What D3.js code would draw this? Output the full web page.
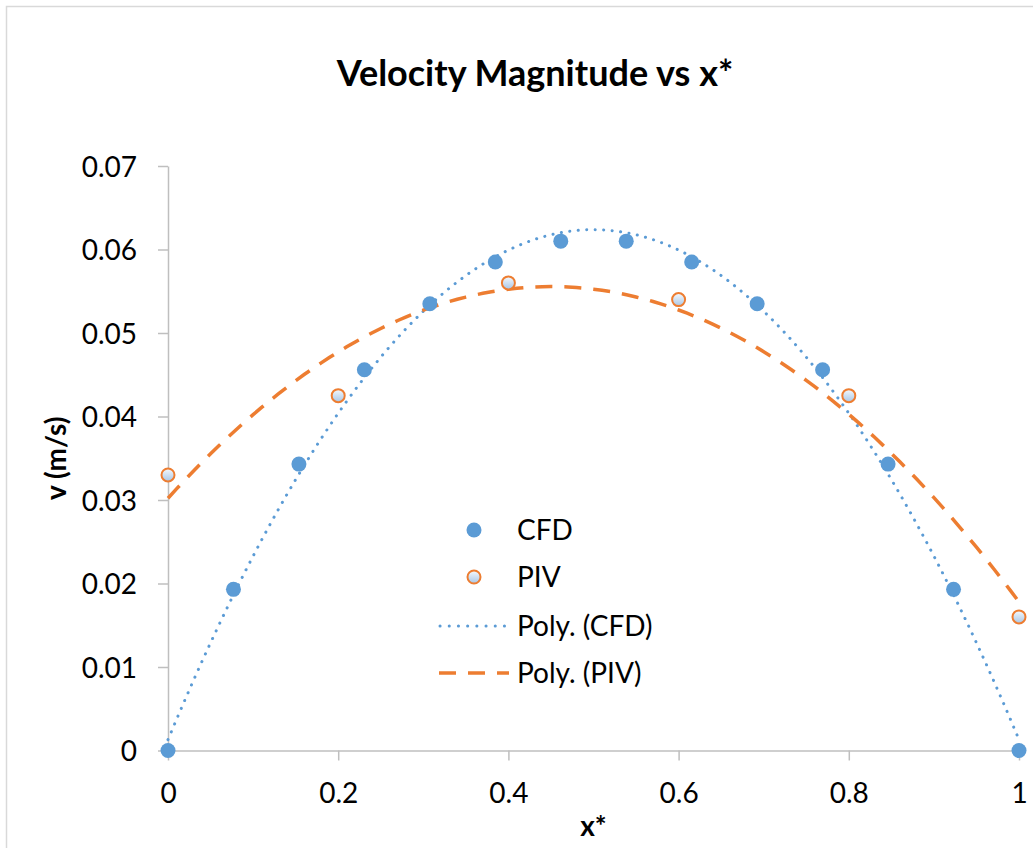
<!DOCTYPE html>
<html>
<head>
<meta charset="utf-8">
<script src="https://cdn.jsdelivr.net/npm/d3@7"></script>
<style>
  html, body { margin: 0; padding: 0; background: #fff; }
  svg { display: block; font-family: Lato, "Liberation Sans", sans-serif; }
</style>
</head>
<body>
<div id="chart"></div>
<script>
// data
var cfdX = [0, 1/13, 2/13, 3/13, 4/13, 5/13, 6/13, 7/13, 8/13, 9/13, 10/13, 11/13, 12/13, 1];
var cfdV = [0, 0.0193, 0.0343, 0.0456, 0.0535, 0.0585, 0.0610, 0.0610, 0.0585, 0.0535, 0.0456, 0.0343, 0.0193, 0];
var pivX = [0, 0.2, 0.4, 0.6, 0.8, 1];
var pivV = [0.0330, 0.0425, 0.0560, 0.0540, 0.0425, 0.0160];
var xTicks = [0, 0.2, 0.4, 0.6, 0.8, 1];
var yTicks = [0, 0.01, 0.02, 0.03, 0.04, 0.05, 0.06, 0.07];

var width = 1033, height = 848;

var svg = d3.select("#chart")
    .append("svg")
    .attr("width", width)
    .attr("height", height);

// chart area border (right/bottom edges are cut off in the picture)
svg.append("rect")
    .attr("x", 6.5)
    .attr("y", 6.5)
    .attr("width", width + 20)
    .attr("height", height + 20)
    .attr("fill", "#fff")
    .attr("stroke", "#d9d9d9")
    .attr("stroke-width", 1.5);

var defs = svg.append("defs");
var grad = defs.append("linearGradient")
    .attr("id", "pivFill")
    .attr("x1", 0).attr("y1", 0)
    .attr("x2", 0).attr("y2", 1);
grad.append("stop").attr("offset", "0%").attr("stop-color", "#f7fafd");
grad.append("stop").attr("offset", "100%").attr("stop-color", "#a8c6e6");

var x = d3.scaleLinear().domain([0, 1]).range([168, 1019]);
var y = d3.scaleLinear().domain([0, 0.07]).range([750.5, 166]);

// least squares polynomial (order 2), like the spreadsheet trendline
function polyFit(xs, ys, order) {
    var n = order + 1;
    var A = [], b = [];
    for (var i = 0; i < n; i++) {
        A.push([]);
        for (var j = 0; j < n; j++) {
            A[i].push(d3.sum(xs, function(v) { return Math.pow(v, i + j); }));
        }
        b.push(d3.sum(xs, function(v, k) { return ys[k] * Math.pow(v, i); }));
    }
    // gaussian elimination
    for (var c = 0; c < n; c++) {
        for (var r = c + 1; r < n; r++) {
            var f = A[r][c] / A[c][c];
            for (var k = c; k < n; k++) A[r][k] -= f * A[c][k];
            b[r] -= f * b[c];
        }
    }
    var coef = new Array(n);
    for (var r2 = n - 1; r2 >= 0; r2--) {
        var s = b[r2];
        for (var k2 = r2 + 1; k2 < n; k2++) s -= A[r2][k2] * coef[k2];
        coef[r2] = s / A[r2][r2];
    }
    return function(t) {
        return d3.sum(coef, function(cf, p) { return cf * Math.pow(t, p); });
    };
}

var fitCfd = polyFit(cfdX, cfdV, 2);
var fitPiv = polyFit(pivX, pivV, 2);
var sampleX = d3.range(0, 1.0001, 0.01);

var line = d3.line()
    .x(function(d) { return x(d[0]); })
    .y(function(d) { return y(d[1]); })
    .curve(d3.curveLinear);

// axes
var xAxis = svg.append("g")
    .attr("transform", "translate(0," + y(0) + ")")
    .call(d3.axisBottom(x).tickValues(xTicks).tickSize(10).tickSizeOuter(0)
        .tickFormat(d3.format(".1~f")));
var yAxis = svg.append("g")
    .attr("transform", "translate(" + x(0) + ",0)")
    .call(d3.axisLeft(y).tickValues(yTicks).tickSize(10).tickSizeOuter(0)
        .tickFormat(d3.format(".2~f")));

[xAxis, yAxis].forEach(function(g) {
    g.select(".domain").attr("stroke", "#bfbfbf").attr("stroke-width", 1.5);
    g.selectAll(".tick line").attr("stroke", "#bfbfbf").attr("stroke-width", 1.5);
    g.selectAll(".tick text")
        .attr("fill", "#000")
        .style("font-size", "28px")
        .style("font-family", "Lato, sans-serif");
});
xAxis.selectAll(".tick text").attr("y", 0).attr("dy", 0).attr("transform", "translate(0,52)");
yAxis.selectAll(".tick text").attr("x", -31).attr("dy", "0.36em");

// trendlines
svg.append("path")
    .datum(sampleX.map(function(t) { return [t, fitCfd(t)]; }))
    .attr("d", line)
    .attr("fill", "none")
    .attr("stroke", "#5b9bd5")
    .attr("stroke-width", 3)
    .attr("stroke-linecap", "round")
    .attr("stroke-dasharray", "0.1 8.4");

svg.append("path")
    .datum(sampleX.map(function(t) { return [t, fitPiv(t)]; }))
    .attr("d", line)
    .attr("fill", "none")
    .attr("stroke", "#ed7d31")
    .attr("stroke-width", 3.5)
    .attr("stroke-dasharray", "17 12");

// markers
svg.selectAll(".cfd")
    .data(cfdX)
    .enter()
    .append("circle")
    .attr("class", "cfd")
    .attr("cx", function(d) { return x(d); })
    .attr("cy", function(d, i) { return y(cfdV[i]); })
    .attr("r", 7.5)
    .attr("fill", "#5b9bd5");

svg.selectAll(".piv")
    .data(pivX)
    .enter()
    .append("circle")
    .attr("class", "piv")
    .attr("cx", function(d) { return x(d); })
    .attr("cy", function(d, i) { return y(pivV[i]); })
    .attr("r", 6.5)
    .attr("fill", "url(#pivFill)")
    .attr("stroke", "#ed7d31")
    .attr("stroke-width", 2);

// titles
svg.append("text")
    .attr("x", 535)
    .attr("y", 86)
    .attr("text-anchor", "middle")
    .style("font-size", "36px")
    .style("font-weight", "bold")
    .text("Velocity Magnitude vs x*");

svg.append("text")
    .attr("transform", "translate(66," + ((y(0) + y(0.07)) / 2) + ") rotate(-90)")
    .attr("text-anchor", "middle")
    .style("font-size", "28px")
    .style("font-weight", "bold")
    .text("v (m/s)");

svg.append("text")
    .attr("x", (x(0) + x(1)) / 2)
    .attr("y", 836)
    .attr("text-anchor", "middle")
    .style("font-size", "28px")
    .style("font-weight", "bold")
    .text("x*");

// legend
var legend = svg.append("g");
var items = ["CFD", "PIV", "Poly. (CFD)", "Poly. (PIV)"];
var legendY = [530, 577, 626, 673];

legend.append("circle").attr("cx", 474).attr("cy", legendY[0]).attr("r", 7.5).attr("fill", "#5b9bd5");
legend.append("circle").attr("cx", 474).attr("cy", legendY[1]).attr("r", 6.5)
    .attr("fill", "url(#pivFill)").attr("stroke", "#ed7d31").attr("stroke-width", 2);
legend.append("line")
    .attr("x1", 440).attr("x2", 510).attr("y1", legendY[2]).attr("y2", legendY[2])
    .attr("stroke", "#5b9bd5").attr("stroke-width", 3)
    .attr("stroke-linecap", "round").attr("stroke-dasharray", "0.1 9.1");
legend.append("line")
    .attr("x1", 439).attr("x2", 509).attr("y1", legendY[3]).attr("y2", legendY[3])
    .attr("stroke", "#ed7d31").attr("stroke-width", 3.5)
    .attr("stroke-dasharray", "17 12");

legend.selectAll("text")
    .data(items)
    .enter()
    .append("text")
    .attr("x", 517)
    .attr("y", function(d, i) { return legendY[i]; })
    .attr("dy", "0.36em")
    .style("font-size", "28px")
    .text(function(d) { return d; });
</script>
</body>
</html>
